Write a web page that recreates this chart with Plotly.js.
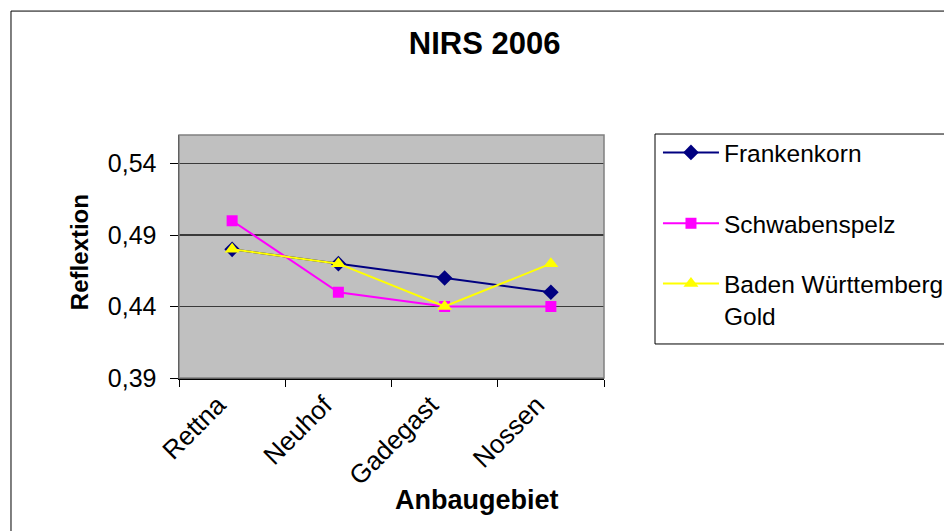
<!DOCTYPE html>
<html>
<head>
<meta charset="utf-8">
<script src="https://cdn.plot.ly/plotly-3.0.1.min.js"></script>
<style>html,body{margin:0;padding:0;background:#fff;}#chart{width:944px;height:531px;}</style>
</head>
<body>
<div id="chart"></div>
<script>
const categories = ["Rettna", "Neuhof", "Gadegast", "Nossen"];
const seriesNames = ["Frankenkorn", "Schwabenspelz", "Baden Württemberg<br>Gold"];
const frankenkorn = [0.48, 0.47, 0.46, 0.45];
const schwabenspelz = [0.50, 0.45, 0.44, 0.44];
const badenWuerttembergGold = [0.48, 0.47, 0.44, 0.47];
const yTickValues = [0.39, 0.44, 0.49, 0.54];

const FONT = "Arial, 'Liberation Sans', sans-serif";
const legendFont = {family: FONT, size: 24.5, color: "#000"};

const traces = [
  {x: categories, y: frankenkorn, name: seriesNames[0], type: "scatter", mode: "lines+markers",
   legend: "legend", legendgroup: "a", line: {color: "#000080", width: 2}, marker: {symbol: "diamond", size: 12, color: "#000080"}},
  {x: categories, y: schwabenspelz, name: seriesNames[1], type: "scatter", mode: "lines+markers",
   legend: "legend", legendgroup: "b", line: {color: "#FF00FF", width: 2}, marker: {symbol: "square", size: 11, color: "#FF00FF"}},
  {x: categories, y: badenWuerttembergGold, name: seriesNames[2], type: "scatter", mode: "lines+markers",
   legend: "legend2", legendgroup: "c", line: {color: "#FFFF00", width: 2}, marker: {symbol: "triangle-up", size: 13, color: "#FFFF00"}}
];

const layout = {
  width: 944, height: 531,
  margin: {l: 179, r: 340, t: 135, b: 153, pad: 0, autoexpand: false},
  paper_bgcolor: "#ffffff",
  plot_bgcolor: "#C0C0C0",
  separators: ", ",
  font: {family: FONT, size: 24, color: "#000"},
  showlegend: true,
  title: {text: "<b>NIRS 2006</b>", font: {family: FONT, size: 31, color: "#000"},
          xref: "paper", x: 0.719, xanchor: "center", yref: "container", y: 0.919, yanchor: "middle"},
  xaxis: {type: "category", range: [-0.5, 3.5], showgrid: false, zeroline: false, automargin: false,
          ticks: "outside", tickson: "boundaries", ticklen: 7, tickcolor: "#000", tickwidth: 1,
          showline: true, linecolor: "#000", linewidth: 1.5, tickangle: -45, ticklabelshift: -14,
          tickfont: {family: FONT, size: 26, color: "#000"}, fixedrange: true},
  yaxis: {range: [0.39, 0.56], tickvals: yTickValues, tickformat: ".2f", automargin: false,
          showgrid: true, gridcolor: "#3a3a3a", gridwidth: 1.3, zeroline: false,
          ticks: "outside", ticklen: 8, tickcolor: "#000", tickwidth: 1, ticklabelstandoff: 8,
          showline: true, linecolor: "#000", linewidth: 1.5,
          tickfont: {family: FONT, size: 25, color: "#000"}, fixedrange: true},
  legend: {xref: "container", yref: "container", x: 0.697, xanchor: "left", y: 0.7552, yanchor: "top",
           bgcolor: "rgba(0,0,0,0)", borderwidth: 0, font: legendFont,
           traceorder: "grouped", tracegroupgap: 36, valign: "top", itemwidth: 56},
  legend2: {xref: "container", yref: "container", x: 0.697, xanchor: "left", y: 0.5085, yanchor: "top",
           bgcolor: "rgba(0,0,0,0)", borderwidth: 0, font: legendFont,
           valign: "top", itemwidth: 56},
  shapes: [
    {type: "rect", xref: "paper", yref: "paper", x0: 0, x1: 1, y0: 0, y1: 1,
     line: {color: "#808080", width: 1.5}, layer: "above"},
    {type: "rect", xref: "paper", yref: "paper", x0: -0.3953, x1: 1.9, y0: -0.70, y1: 1.510,
     line: {color: "#000", width: 1}, fillcolor: "rgba(0,0,0,0)", layer: "below"},
    {type: "rect", xref: "paper", yref: "paper", x0: 1.12, x1: 1.9, y0: 0.14, y1: 1.004,
     line: {color: "#000", width: 1}, fillcolor: "#ffffff", layer: "below"}
  ],
  annotations: [
    {text: "<b>Anbaugebiet</b>", xref: "paper", yref: "paper", x: 0.70, y: -0.502,
     xanchor: "center", yanchor: "middle", showarrow: false, font: {family: FONT, size: 27, color: "#000"}},
    {text: "<b>Reflextion</b>", xref: "paper", yref: "paper", x: -0.235, y: 0.5185, textangle: -90,
     xanchor: "center", yanchor: "middle", showarrow: false, font: {family: FONT, size: 24, color: "#000"}}
  ]
};

Plotly.newPlot("chart", traces, layout, {displayModeBar: false, staticPlot: true});
</script>
</body>
</html>
